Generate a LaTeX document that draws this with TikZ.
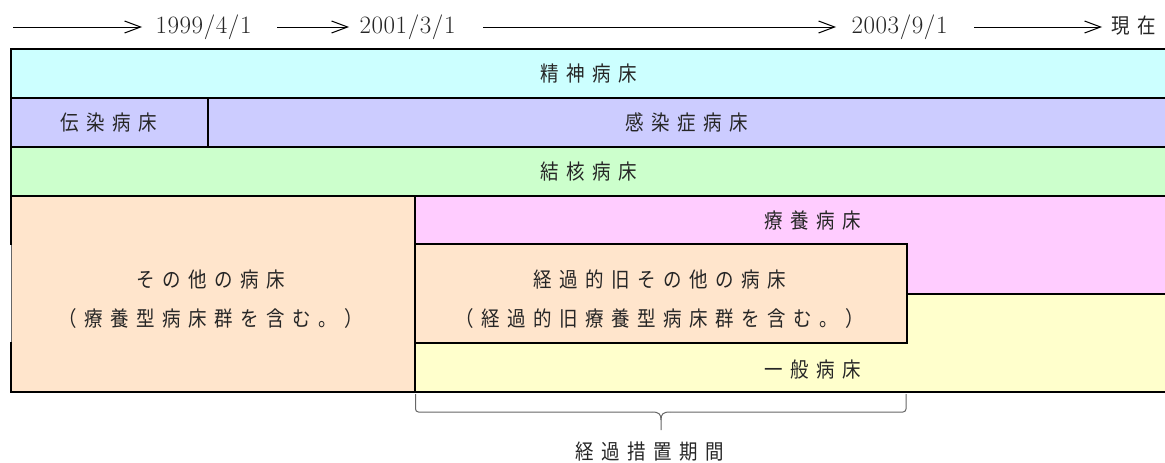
\documentclass[tikz,border=0pt]{standalone}
\usepackage{fontspec}
\newfontfamily\jp[FakeStretch=0.88]{Noto Sans CJK JP}
\usetikzlibrary{arrows.meta}
\definecolor{cCyan}{HTML}{CCFFFF}
\definecolor{cLav}{HTML}{CCCCFF}
\definecolor{cGreen}{HTML}{CCFFCC}
\definecolor{cPeach}{HTML}{FFE5CC}
\definecolor{cPink}{HTML}{FFCCFF}
\definecolor{cYellow}{HTML}{FFFFCC}
\newdimen\lspk
\def\lsp#1{\lspA#1\relax}
\def\lspA#1{\ifx#1\relax\else#1\expandafter\lspB\fi}
\def\lspB#1{\ifx#1\relax\else\kern\lspk#1\expandafter\lspB\fi}
\newcommand\J[1]{\lspk=7.5pt\lsp{#1}}
\newcommand\D[1]{\lspk=0.6pt\lsp{#1}}
\tikzset{
  jt/.style={font=\jp\fontsize{21}{21}\selectfont, inner sep=0pt, text=black!85},
  dt/.style={font=\fontsize{25}{25}\selectfont, inner sep=0pt, text=black!85},
  edge/.style={line width=1.8pt, black},
  thinedge/.style={line width=1.5pt, black!60},
  tl/.style={line width=1pt, black, -{Straight Barb[length=16pt,width=12pt,line width=1pt]}},
  bracel/.style={line width=1pt, black!60, rounded corners=3pt},
}
\begin{document}
\begin{tikzpicture}[x=1pt,y=-1pt]
\useasboundingbox (0,0) rectangle (1165,463);
% fills
\fill[cCyan] (11,49) rectangle (1165,98);
\fill[cLav] (11,98) rectangle (1165,147);
\fill[cGreen] (11,147) rectangle (1165,196);
\fill[cPeach] (11,196) rectangle (415,392);
\fill[cPink] (415,196) rectangle (1165,294);
\fill[cYellow] (415,294) rectangle (1165,392);
\fill[cPeach] (415,244) rectangle (907,343);
% lines
\draw[edge] (11,49) -- (1165,49);
\draw[edge] (11,98) -- (1165,98);
\draw[edge] (11,147) -- (1165,147);
\draw[edge] (11,196) -- (1165,196);
\draw[edge] (11,392) -- (1165,392);
\draw[edge] (11,48.1) -- (11,245);
\draw[thinedge] (11.4,245) -- (11.4,343);
\draw[edge] (11,342) -- (11,392.9);
\draw[edge] (208,98) -- (208,147);
\draw[edge] (415,196) -- (415,392);
\draw[edge] (907,294) -- (1165,294);
\draw[edge] (415,244) rectangle (907,343);
% labels
\node[jt] (seishin) at (589,73.3) {\J{精神病床}};
\node[jt] (densen) at (109,122.3) {\J{伝染病床}};
\node[jt] (kansen) at (687,122.3) {\J{感染症病床}};
\node[jt] (kekkaku) at (589,171.3) {\J{結核病床}};
\node[jt] (ryoyo) at (813,221) {\J{療養病床}};
\node[jt] (ippan) at (813,370) {\J{一般病床}};
\node[jt] (sonota1) at (211,279.5) {\J{その他の病床}};
\node[jt] (sonota2) at (211,318.5) {\J{（療養型病床群を含む。）}};
\node[jt] (keika1) at (660,279.5) {\J{経過的旧その他の病床}};
\node[jt] (keika2) at (660,318.5) {\J{（経過的旧療養型病床群を含む。）}};
\node[jt] (sochi) at (650,452) {\J{経過措置期間}};
% timeline
\node[dt] (d1) at (203.5,27) {\D{1999/4/1}};
\node[dt] (d2) at (407.5,27) {\D{2001/3/1}};
\node[dt] (d3) at (899.5,27) {\D{2003/9/1}};
\node[jt] (now) at (1134,26) {\J{現在}};
\coordinate (s0) at (13,27);
\coordinate (e1) at (142,27);
\coordinate (s1) at (277,27);
\coordinate (e2) at (349,27);
\coordinate (s2) at (483,27);
\coordinate (e3) at (836,27);
\coordinate (s3) at (974,27);
\coordinate (e4) at (1102,27);
\draw[tl] (s0) -- (e1);
\draw[tl] (s1) -- (e2);
\draw[tl] (s2) -- (e3);
\draw[tl] (s3) -- (e4);
% brace
\coordinate (bl) at (415.5,394);
\coordinate (br) at (906,394);
\coordinate (bt) at (661,430);
\draw[bracel] (bl) -- (415.5,412) -- (652,412);
\draw[line width=1pt, black!60] (652,412) .. controls (659,412) and (661,414) .. (661,420) -- (bt);
\draw[bracel] (br) -- (906,412) -- (670,412);
\draw[line width=1pt, black!60] (670,412) .. controls (663,412) and (661,414) .. (661,420);
\end{tikzpicture}
\end{document}
